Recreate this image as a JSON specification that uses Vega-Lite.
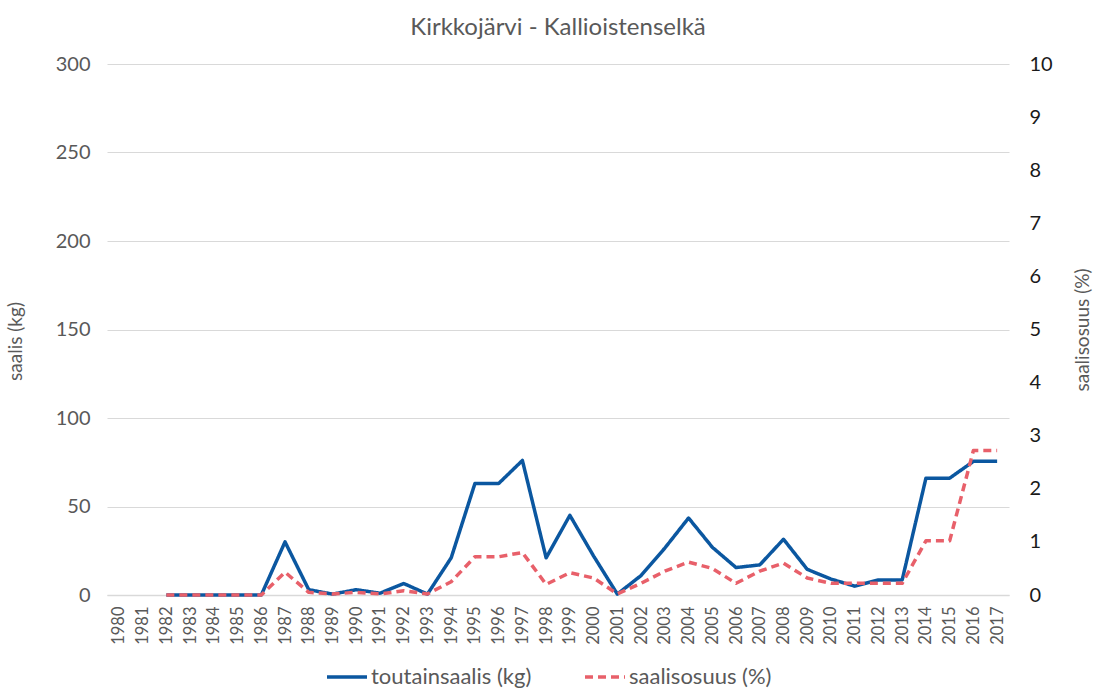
{
  "$schema": "https://vega.github.io/schema/vega-lite/v6.json",
  "autosize": {"type": "none"},
  "width": 902,
  "height": 531,
  "padding": {"left": 107, "top": 64, "right": 89, "bottom": 94},
  "background": "white",
  "config": {
    "font": "Lato",
    "view": {"stroke": null},
    "title": {"fontSize": 24, "fontWeight": "normal", "color": "#595959", "offset": 14}
  },
  "title": {"text": "Kirkkojärvi - Kallioistenselkä", "anchor": "middle"},
  "data": {
    "values": [
      {"vuosi": "1980", "kg": null, "pct": null},
      {"vuosi": "1981", "kg": null, "pct": null},
      {"vuosi": "1982", "kg": 0, "pct": 0},
      {"vuosi": "1983", "kg": 0, "pct": 0},
      {"vuosi": "1984", "kg": 0, "pct": 0},
      {"vuosi": "1985", "kg": 0, "pct": 0},
      {"vuosi": "1986", "kg": 0, "pct": 0},
      {"vuosi": "1987", "kg": 30, "pct": 0.43},
      {"vuosi": "1988", "kg": 3, "pct": 0.05},
      {"vuosi": "1989", "kg": 0.5, "pct": 0.02},
      {"vuosi": "1990", "kg": 3, "pct": 0.05},
      {"vuosi": "1991", "kg": 1, "pct": 0.02},
      {"vuosi": "1992", "kg": 6.5, "pct": 0.08},
      {"vuosi": "1993", "kg": 0.5, "pct": 0.02},
      {"vuosi": "1994", "kg": 21, "pct": 0.25},
      {"vuosi": "1995", "kg": 63, "pct": 0.72},
      {"vuosi": "1996", "kg": 63, "pct": 0.72},
      {"vuosi": "1997", "kg": 76, "pct": 0.8},
      {"vuosi": "1998", "kg": 21, "pct": 0.2},
      {"vuosi": "1999", "kg": 45, "pct": 0.42},
      {"vuosi": "2000", "kg": 22, "pct": 0.32},
      {"vuosi": "2001", "kg": 0.5, "pct": 0.02},
      {"vuosi": "2002", "kg": 11, "pct": 0.22},
      {"vuosi": "2003", "kg": 26.5, "pct": 0.45},
      {"vuosi": "2004", "kg": 43.5, "pct": 0.62},
      {"vuosi": "2005", "kg": 27, "pct": 0.5},
      {"vuosi": "2006", "kg": 15.5, "pct": 0.22},
      {"vuosi": "2007", "kg": 17, "pct": 0.45},
      {"vuosi": "2008", "kg": 31.5, "pct": 0.6},
      {"vuosi": "2009", "kg": 14.5, "pct": 0.32},
      {"vuosi": "2010", "kg": 9, "pct": 0.22},
      {"vuosi": "2011", "kg": 5, "pct": 0.22},
      {"vuosi": "2012", "kg": 8.5, "pct": 0.22},
      {"vuosi": "2013", "kg": 8.5, "pct": 0.22},
      {"vuosi": "2014", "kg": 66, "pct": 1.02},
      {"vuosi": "2015", "kg": 66, "pct": 1.02},
      {"vuosi": "2016", "kg": 75.5, "pct": 2.72},
      {"vuosi": "2017", "kg": 75.5, "pct": 2.72}
    ]
  },
  "encoding": {
    "x": {
      "field": "vuosi",
      "type": "ordinal",
      "scale": {
        "type": "point",
        "padding": 0.5,
        "domain": ["1980","1981","1982","1983","1984","1985","1986","1987","1988","1989","1990","1991","1992","1993","1994","1995","1996","1997","1998","1999","2000","2001","2002","2003","2004","2005","2006","2007","2008","2009","2010","2011","2012","2013","2014","2015","2016","2017"]
      },
      "axis": {
        "title": null,
        "labelAngle": 270,
        "labelFontSize": 16.5,
        "labelColor": "#595959",
        "labelPadding": 11,
        "ticks": false,
        "domain": true,
        "domainColor": "#d9d9d9",
        "domainWidth": 1.5,
        "grid": false
      }
    }
  },
  "layer": [
    {
      "mark": {"type": "line", "strokeWidth": 3.5, "strokeJoin": "round"},
      "encoding": {
        "y": {
          "field": "kg",
          "type": "quantitative",
          "scale": {"domain": [0, 300], "nice": false},
          "axis": {
            "title": "saalis (kg)",
            "titleFontSize": 19,
            "titleFontWeight": "normal",
            "titleColor": "#595959",
            "titlePadding": 30,
            "titleY": 277,
            "labelFontSize": 20,
            "labelColor": "#595959",
            "labelPadding": 17,
            "values": [0, 50, 100, 150, 200, 250, 300],
            "domain": false,
            "ticks": false,
            "grid": true,
            "gridColor": "#d9d9d9",
            "gridWidth": 1.2
          }
        },
        "color": {
          "datum": "toutainsaalis (kg)",
          "type": "nominal",
          "scale": {"domain": ["toutainsaalis (kg)", "saalisosuus (%)"], "range": ["#0b57a0", "#e8606a"]},
          "legend": {
            "title": null,
            "orient": "none",
            "direction": "horizontal",
            "legendX": 218,
            "legendY": 591,
            "symbolType": "stroke",
            "symbolSize": 1600,
            "symbolStrokeWidth": 3.5,
            "labelFontSize": 22,
            "labelLimit": 400,
            "labelColor": "#595959",
            "labelOffset": 2,
            "columnPadding": 46
          }
        },
        "strokeDash": {
          "datum": "toutainsaalis (kg)",
          "type": "nominal",
          "scale": {"domain": ["toutainsaalis (kg)", "saalisosuus (%)"], "range": [[1, 0], [8, 5]]},
          "legend": null
        }
      }
    },
    {
      "mark": {"type": "line", "strokeWidth": 3.5, "strokeJoin": "round"},
      "encoding": {
        "y": {
          "field": "pct",
          "type": "quantitative",
          "scale": {"domain": [0, 10], "nice": false},
          "axis": {
            "orient": "right",
            "title": "saalisosuus (%)",
            "titleAngle": 270,
            "titleFontSize": 19,
            "titleFontWeight": "normal",
            "titleColor": "#595959",
            "titlePadding": 40,
            "labelFontSize": 20,
            "labelColor": "#1a1a1a",
            "labelPadding": 20,
            "values": [0, 1, 2, 3, 4, 5, 6, 7, 8, 9, 10],
            "domain": false,
            "ticks": false,
            "grid": false
          }
        },
        "color": {"datum": "saalisosuus (%)", "type": "nominal"},
        "strokeDash": {"datum": "saalisosuus (%)", "type": "nominal"}
      }
    }
  ],
  "resolve": {"scale": {"y": "independent"}}
}
